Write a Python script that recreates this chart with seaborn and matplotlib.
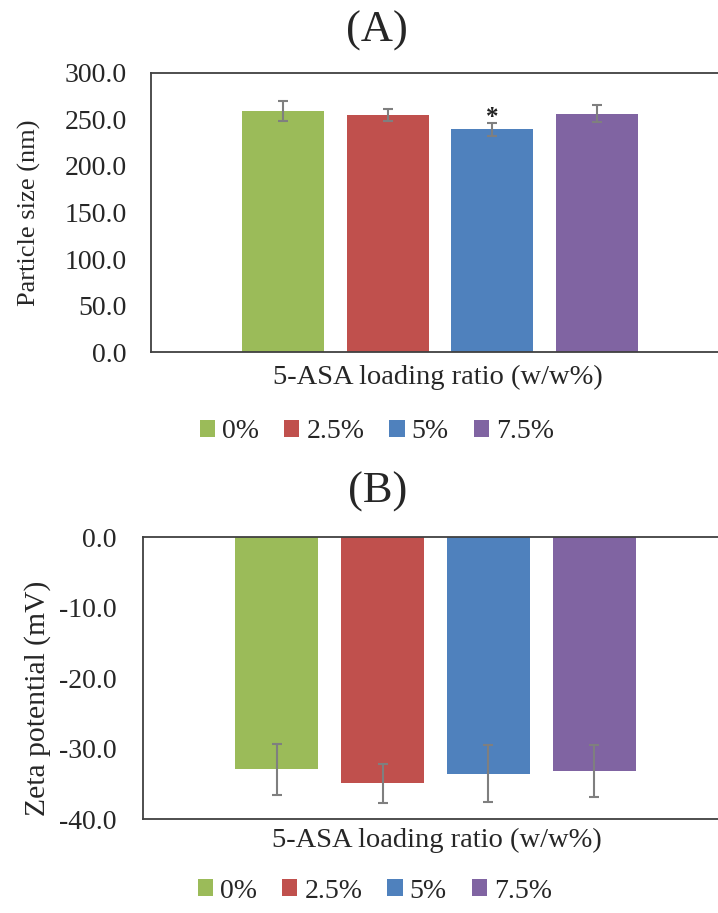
import matplotlib
matplotlib.use("Agg")
import matplotlib.pyplot as plt
from matplotlib.patches import Patch
import seaborn as sns
import pandas as pd

# ---- data ----
groups = ["0%", "2.5%", "5%", "7.5%"]
colors = ["#9BBB59", "#C0504D", "#4F81BD", "#8064A2"]

size_mean = [258.9, 254.6, 239.3, 256.0]
size_err = [10.7, 6.5, 6.8, 8.9]
size_ticks = [0, 50, 100, 150, 200, 250, 300]
size_ticklabels = ["0.0", "50.0", "100.0", "150.0", "200.0", "250.0", "300.0"]

zeta_mean = [-32.95, -34.94, -33.58, -33.15]
zeta_err = [3.65, 2.75, 4.07, 3.7]
zeta_ticks = [0, -10, -20, -30, -40]
zeta_ticklabels = ["0.0", "-10.0", "-20.0", "-30.0", "-40.0"]

signif_marks = ["", "", "*", ""]

xlabel = "5-ASA loading ratio (w/w%)"
ylabel_a = "Particle size (nm)"
ylabel_b = "Zeta potential (mV)"
title_a = "(A)"
title_b = "(B)"

# ---- style ----
sns.set_theme(style="white")
plt.rcParams["font.family"] = ["Liberation Serif", "DejaVu Serif"]
plt.rcParams["axes.unicode_minus"] = False

W, H = 718, 913
fig = plt.figure(figsize=(W / 100, H / 100), dpi=100)

FS_TICK = 20
FS_XLAB = 20.5
FS_LEG = 20
spine_color = "#404040"
err_color = "#7f7f7f"


def px_axes(left, right, top, bottom):
    return fig.add_axes([left / W, 1 - bottom / H, (right - left) / W, (bottom - top) / H])


def draw_panel(ax, means, errs, ticks, ticklabels, ylim, xlim, width, ylab, ylab_fs, pad):
    df = pd.DataFrame({"group": groups, "value": means})
    sns.barplot(data=df, x="group", y="value", hue="group", palette=colors,
                width=width, errorbar=None, legend=False, ax=ax,
                saturation=1, edgecolor="none", linewidth=0)
    ax.errorbar(range(len(groups)), means, yerr=errs, fmt="none",
                ecolor=err_color, elinewidth=1.5, capsize=3.6, capthick=1.5, zorder=5)
    ax.set_xlim(*xlim)
    ax.set_ylim(*ylim)
    ax.set_xticks([])
    ax.set_xlabel("")
    ax.set_yticks(ticks)
    ax.set_yticklabels(ticklabels, fontsize=FS_TICK)
    ax.tick_params(axis="y", length=0, pad=pad)
    for s in ax.spines.values():
        s.set_visible(True)
        s.set_color(spine_color)
        s.set_linewidth(1.3)
    ax.set_ylabel(ylab, fontsize=ylab_fs)
    return ax


# Panel A
axA = px_axes(150.7, 729.7, 72.7, 352.3)
draw_panel(axA, size_mean, size_err, size_ticks, size_ticklabels,
           (0, 300), (-1.268, 4.269), 0.784, ylabel_a, 19, 17.3)
axA.yaxis.set_label_coords((29 - 150.7) / 579, 0.498)
axA.yaxis.label.set_va("center")
axA.set_xlabel(xlabel, fontsize=FS_XLAB)
axA.xaxis.set_label_coords(0.496, -0.0883)
axA.xaxis.label.set_va("center")
for i, m in enumerate(signif_marks):
    if m:
        axA.text(i, size_mean[i] + size_err[i] - 6, m, ha="center", va="bottom",
                 fontsize=18, fontweight="bold", color="#222222")

# Panel B
axB = px_axes(143.3, 727.7, 537.3, 819)
draw_panel(axB, zeta_mean, zeta_err, zeta_ticks, zeta_ticklabels,
           (-40, 0), (-1.26, 4.26), 0.787, ylabel_b, 21.3, 19.1)
axB.yaxis.set_label_coords(-0.181, 0.4295)
axB.yaxis.label.set_va("center")
axB.set_xlabel(xlabel, fontsize=FS_XLAB)
axB.xaxis.set_label_coords(0.5026, -0.0745)
axB.xaxis.label.set_va("center")

# Titles
fig.text(377 / W, 1 - 31 / H, title_a, ha="center", va="center", fontsize=32)
fig.text(378 / W, 1 - 492 / H, title_b, ha="center", va="center", fontsize=32)

# Legends
handles = [Patch(facecolor=c, edgecolor="none") for c in colors]
for cy, cx in [(432, 377), (891, 375)]:
    fig.legend(handles, groups, loc="center", bbox_to_anchor=(cx / W, 1 - cy / H),
               ncol=4, frameon=False, fontsize=FS_LEG, handlelength=0.55,
               handleheight=0.55, handletextpad=0.25, columnspacing=0.9,
               borderaxespad=0, borderpad=0)

fig.savefig("out.png", dpi=100)
